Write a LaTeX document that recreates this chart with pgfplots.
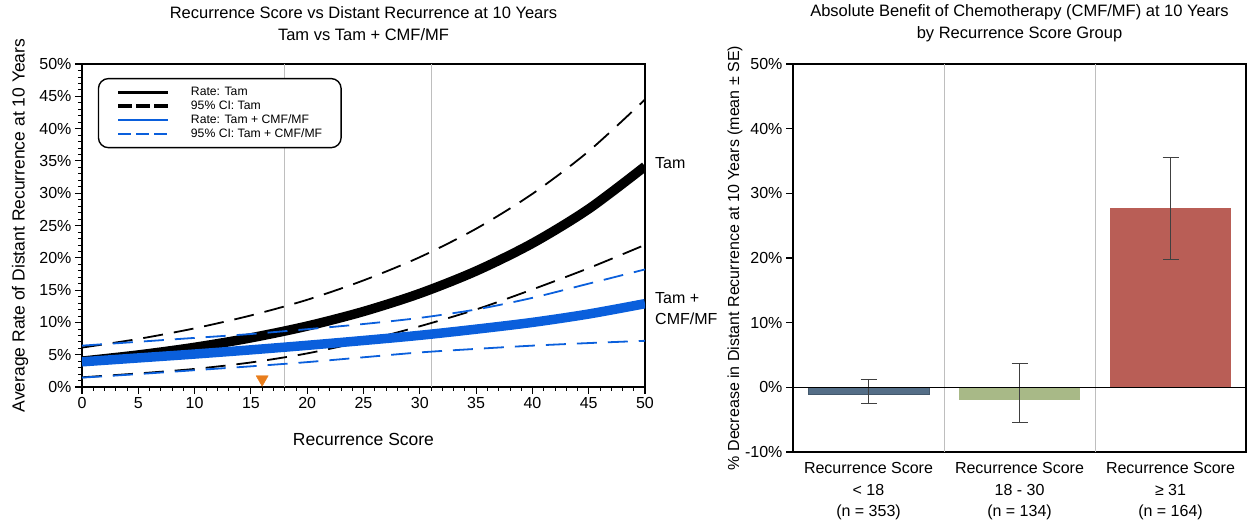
\documentclass[border=0pt]{standalone}
\usepackage{fontspec}
\setmainfont{Liberation Sans}
\usepackage{pgfplots}
\pgfplotsset{compat=1.18}
\definecolor{tamblue}{RGB}{10,95,220}
\definecolor{orng}{RGB}{232,125,28}
\definecolor{barA}{RGB}{84,110,135}
\definecolor{barB}{RGB}{168,185,135}
\definecolor{barC}{RGB}{185,94,86}
\definecolor{gridgray}{RGB}{190,190,190}
\newcommand{\fs}[2]{\fontsize{#1}{#2}\selectfont}
\pgfplotsset{
  myaxis/.style={
    scale only axis,
    tick align=outside,
    major tick length=7pt,
    minor tick length=4pt,
    axis line style={line width=1.6pt},
    every tick/.style={black, line width=1.1pt},
    every minor tick/.style={black, line width=0.7pt},
    tick label style={font=\fs{16}{19}},
    label style={font=\fs{17.5}{21}},
    title style={font=\fs{16.5}{22}, align=center},
  }
}
\begin{document}
\begin{tikzpicture}
% ---------------- Left chart ----------------
\begin{axis}[myaxis,
  at={(0pt,0pt)}, anchor=north west,
  width=563pt, height=323pt,
  xmin=0, xmax=50, ymin=0, ymax=50,
  xtick={0,5,...,50}, minor x tick num=4,
  xticklabels={0,5,10,15,20,25,30,35,40,45,50},
  ytick={0,5,...,50}, minor y tick num=4,
  yticklabels={0\%,5\%,10\%,15\%,20\%,25\%,30\%,35\%,40\%,45\%,50\%},
  tick pos=left,
  clip mode=individual,
  title={Recurrence Score vs Distant Recurrence at 10 Years\\Tam vs Tam + CMF/MF},
  title style={at={(axis description cs:0.5,1.108)}, anchor=center},
  xlabel={Recurrence Score},
  xlabel style={at={(axis description cs:0.5,-0.164)}, anchor=center},
  ylabel={Average Rate of Distant Recurrence at 10 Years},
  ylabel style={at={(axis description cs:-0.110,0.5)}, anchor=center},
  legend style={at={(axis description cs:0.028,0.957)}, anchor=north west,
    draw=black, line width=1.4pt, rounded corners=10pt,
    font=\fs{12.2}{14}, inner xsep=18pt, inner ysep=8pt,
    row sep=1.5pt, column sep=20pt,
    nodes={inner sep=1pt}},
  legend cell align=left,
  legend image code/.code={\draw[#1] (0pt,0pt) -- (50pt,0pt);},
]
\addlegendimage{black, line width=3pt}
\addlegendentry{Rate: Tam}
\addlegendimage{black, line width=3.5pt, dash pattern=on 14pt off 4pt}
\addlegendentry{95\% CI: Tam}
\addlegendimage{tamblue, line width=2pt}
\addlegendentry{Rate: Tam + CMF/MF}
\addlegendimage{tamblue, line width=2pt, dash pattern=on 13pt off 5pt}
\addlegendentry{95\% CI: Tam + CMF/MF}

\addplot[gridgray, line width=1pt, forget plot] coordinates {(18,0) (18,50)};
\addplot[gridgray, line width=1pt, forget plot] coordinates {(31,0) (31,50)};

% Tam rate
\addplot[black, line width=9.5pt, smooth, forget plot] coordinates {
(0,4.0) (5,4.96) (10,6.14) (15,7.61) (20,9.43) (25,11.69) (30,14.48) (35,17.95) (40,22.24) (45,27.56) (50,34.15)};
% Tam CI upper
\addplot[black, line width=1.8pt, dash pattern=on 20pt off 11pt, smooth, forget plot] coordinates {
(0,6.1) (5,7.44) (10,9.08) (15,11.08) (20,13.5) (25,16.5) (30,20.1) (35,24.5) (40,29.9) (45,36.5) (50,44.5)};
% Tam CI lower
\addplot[black, line width=1.8pt, dash pattern=on 20pt off 11pt, smooth, forget plot] coordinates {
(0,1.5) (5,2.1) (10,2.8) (15,3.8) (20,5.2) (25,7.1) (30,9.4) (35,12.0) (40,15.1) (45,18.4) (50,22.0)};
% Tam + CMF/MF rate
\addplot[tamblue, line width=9.5pt, smooth, forget plot] coordinates {
(0,3.9) (5,4.5) (10,5.1) (15,5.75) (20,6.45) (25,7.2) (30,8.0) (35,8.95) (40,10.0) (45,11.3) (50,12.9)};
% Tam + CMF/MF CI upper
\addplot[tamblue, line width=1.8pt, dash pattern=on 20pt off 11pt, smooth, forget plot] coordinates {
(0,6.4) (5,7.0) (10,7.6) (15,8.2) (20,8.95) (25,9.75) (30,10.7) (35,12.0) (40,13.8) (45,16.0) (50,18.2)};
% Tam + CMF/MF CI lower
\addplot[tamblue, line width=1.8pt, dash pattern=on 20pt off 11pt, smooth, forget plot] coordinates {
(0,1.45) (5,2.0) (10,2.6) (15,3.2) (20,3.85) (25,4.6) (30,5.35) (35,5.9) (40,6.4) (45,6.8) (50,7.15)};

\addplot[only marks, mark=triangle*, mark size=7pt, mark options={fill=orng, draw=orng, rotate=180}, forget plot] coordinates {(16,1.2)};

\node[anchor=west, font=\fs{16}{21}, inner sep=0pt] at (axis cs:50,34.7) [xshift=10pt] {Tam};
\node[anchor=west, font=\fs{16}{21}, inner sep=0pt, align=left] at (axis cs:50,12.1) [xshift=10pt] {Tam +\\CMF/MF};
\end{axis}

% ---------------- Right chart ----------------
\begin{axis}[myaxis,
  at={(711pt,0pt)}, anchor=north west,
  width=453pt, height=388pt,
  xmin=-0.5, xmax=2.5, ymin=-10, ymax=50,
  xtick={0,1,2},
  xticklabels={{Recurrence Score\\< 18\\(n = 353)},{Recurrence Score\\18 - 30\\(n = 134)},{Recurrence Score\\≥ 31\\(n = 164)}},
  x tick label style={align=center, font=\fs{16}{21.5}},
  xtick style={draw=none},
  ytick={-10,0,...,50},
  yticklabels={-10\%,0\%,10\%,20\%,30\%,40\%,50\%},
  ytick pos=left,
  title={Absolute Benefit of Chemotherapy (CMF/MF) at 10 Years\\by Recurrence Score Group},
  title style={at={(axis description cs:0.5,1.09)}, anchor=center},
  ylabel={\% Decrease in Distant Recurrence at 10 Years (mean ± SE)},
  ylabel style={at={(axis description cs:-0.128,0.5)}, anchor=center, font=\fs{16}{19}},
]
\addplot[gridgray, line width=1pt] coordinates {(0.5,-10) (0.5,50)};
\addplot[gridgray, line width=1pt] coordinates {(1.5,-10) (1.5,50)};

\addplot[ybar, bar width=0.8, bar shift=0pt, fill=barA, draw=barA!80!black, line width=0.5pt,
  error bars/.cd, y dir=both, y explicit,
  error bar style={line width=1pt, black!75},
  error mark options={rotate=90, mark size=8pt, line width=1pt, black!75}]
  coordinates {(0,-1.1) += (0,2.3) -= (0,1.4)};
\addplot[ybar, bar width=0.8, bar shift=0pt, fill=barB, draw=none,
  error bars/.cd, y dir=both, y explicit,
  error bar style={line width=1pt, black!75},
  error mark options={rotate=90, mark size=8pt, line width=1pt, black!75}]
  coordinates {(1,-1.9) += (0,5.6) -= (0,3.5)};
\addplot[ybar, bar width=0.8, bar shift=0pt, fill=barC, draw=none,
  error bars/.cd, y dir=both, y explicit,
  error bar style={line width=1pt, black!75},
  error mark options={rotate=90, mark size=8pt, line width=1pt, black!75}]
  coordinates {(2,27.7) += (0,7.8) -= (0,8.0)};

\addplot[black, line width=1.6pt] coordinates {(-0.5,0) (2.5,0)};
\end{axis}

\pgfresetboundingbox
\path (-82pt,64pt) rectangle (1170pt,-462pt);
\end{tikzpicture}
\end{document}
